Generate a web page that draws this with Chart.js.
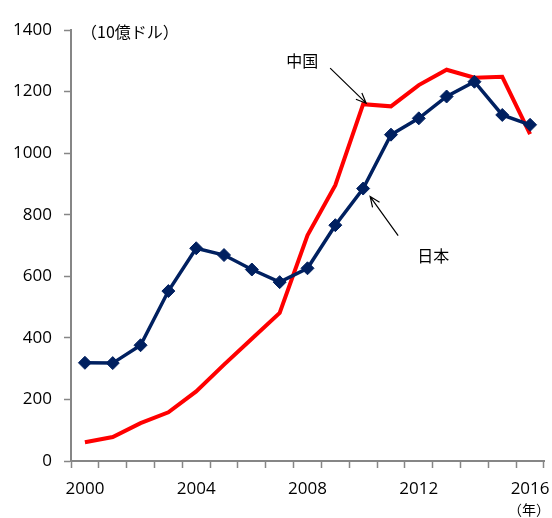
<!DOCTYPE html>
<html>
<head>
<meta charset="utf-8">
<script src="https://cdn.jsdelivr.net/npm/chart.js@4/dist/chart.umd.min.js"></script>
<style>
  html, body { margin: 0; padding: 0; background: #fff; }
  #wrap { width: 552px; height: 518px; }
</style>
</head>
<body>
<div id="wrap"><canvas id="chart1" width="552" height="518"></canvas></div>
<script>
// years on the x axis
var years = ['2000', '2001', '2002', '2003', '2004', '2005', '2006', '2007', '2008',
             '2009', '2010', '2011', '2012', '2013', '2014', '2015', '2016'];
// 日本 (10億ドル)
var japan = [319, 318, 376, 552, 691, 669, 622, 581, 626, 766, 885, 1060, 1113, 1184, 1232, 1124, 1092];
// 中国 (10億ドル)
var china = [61, 78, 123, 158, 226, 313, 397, 481, 733, 896, 1159, 1152, 1221, 1271, 1245, 1248, 1062];
var yTicks = [0, 200, 400, 600, 800, 1000, 1200, 1400];

var axisColor = '#868686';
var tickFont = { family: "'Open Sans', 'DejaVu Sans', sans-serif", size: 17 };
var jpFont = "'Noto Sans CJK JP', sans-serif";

function arrow(ctx, x1, y1, x2, y2) {
    var a = Math.atan2(y2 - y1, x2 - x1), h = 11;
    ctx.beginPath();
    ctx.moveTo(x1, y1);
    ctx.lineTo(x2, y2);
    ctx.moveTo(x2 - h * Math.cos(a - 0.4), y2 - h * Math.sin(a - 0.4));
    ctx.lineTo(x2, y2);
    ctx.lineTo(x2 - h * Math.cos(a + 0.4), y2 - h * Math.sin(a + 0.4));
    ctx.stroke();
}

// labels, arrows and unit text
var notes = {
    id: 'notes',
    afterDraw: function (chart) {
        var ctx = chart.ctx, xs = chart.scales.x, ys = chart.scales.y;
        var i = years.indexOf('2010');
        ctx.save();
        ctx.fillStyle = '#000';
        ctx.strokeStyle = '#000';
        ctx.lineWidth = 1.2;
        ctx.textAlign = 'center';
        ctx.textBaseline = 'middle';

        // 中国
        var cx = xs.getPixelForValue(i), cy = ys.getPixelForValue(china[i]);
        ctx.font = '16px ' + jpFont;
        ctx.fillText('中国', cx - 61, cy - 43);
        arrow(ctx, cx - 33, cy - 36, cx + 3, cy - 1);

        // 日本
        var jx = xs.getPixelForValue(i), jy = ys.getPixelForValue(japan[i]);
        ctx.fillText('日本', jx + 70, jy + 67);
        arrow(ctx, jx + 35, jy + 47, jx + 7, jy + 8);

        // units
        ctx.textAlign = 'left';
        ctx.font = '16px ' + jpFont;
        ctx.fillText('（10億ドル）', chart.chartArea.left + 10, ys.getPixelForValue(1400) + 2);
        ctx.textAlign = 'right';
        ctx.font = '14px ' + jpFont;
        ctx.fillText('（年）', chart.chartArea.right + 6, 510);
        ctx.restore();
    }
};

new Chart(document.getElementById('chart1'), {
    type: 'line',
    data: {
        labels: years,
        datasets: [{
            label: '中国',
            data: china,
            borderColor: '#ff0000',
            borderWidth: 4,
            pointRadius: 0,
            tension: 0,
            order: 2
        }, {
            label: '日本',
            data: japan,
            borderColor: '#002060',
            backgroundColor: '#002060',
            borderWidth: 3.5,
            pointStyle: 'rectRot',
            pointRadius: 6.5,
            pointBorderWidth: 1,
            tension: 0,
            order: 1
        }]
    },
    options: {
        responsive: false,
        animation: false,
        layout: { padding: { top: 30, right: 8, left: 0, bottom: 0 } },
        plugins: {
            legend: { display: false },
            tooltip: { enabled: false }
        },
        scales: {
            x: {
                type: 'category',
                offset: true,
                grid: {
                    offset: true,
                    drawOnChartArea: false,
                    color: axisColor,
                    tickLength: 7,
                    tickWidth: 1.5
                },
                border: { color: axisColor, width: 2 },
                ticks: {
                    autoSkip: false,
                    maxRotation: 0,
                    color: '#000',
                    font: tickFont,
                    padding: 11,
                    callback: function (v, idx) { return idx % 4 == 0 ? years[idx] : ''; }
                },
                afterFit: function (s) {
                    s.height = 57;
                    s.paddingLeft = 0;
                    s.paddingRight = 0;
                }
            },
            y: {
                min: 0,
                max: 1400,
                afterBuildTicks: function (s) { s.ticks = yTicks.map(function (v) { return { value: v }; }); },
                grid: {
                    drawOnChartArea: false,
                    color: axisColor,
                    tickLength: 7,
                    tickWidth: 1.5
                },
                border: { color: axisColor, width: 2 },
                ticks: {
                    color: '#000',
                    font: tickFont,
                    padding: 12,
                    callback: function (v) { return String(v); }
                },
                afterFit: function (s) {
                    s.width = 71;
                    s.paddingTop = 0;
                    s.paddingBottom = 0;
                }
            }
        }
    },
    plugins: [notes]
});
</script>
</body>
</html>
